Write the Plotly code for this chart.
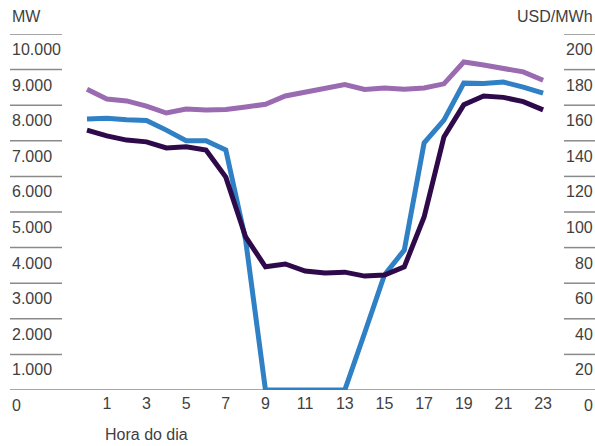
import plotly.graph_objects as go

hours = list(range(24))
demand_mw = [7300, 7140, 7020, 6970, 6800, 6830, 6740, 5980, 4300, 3460, 3540, 3340,
             3290, 3310, 3200, 3230, 3460, 4860, 7110, 8010, 8260, 8220, 8100, 7870]
solar_mw = [7610, 7630, 7590, 7570, 7300, 7000, 7000, 6740, 4210, 0, 0, 0,
            0, 0, 1600, 3230, 3930, 6940, 7580, 8620, 8610, 8650, 8510, 8340]
price_usd = [169, 163.5, 162.4, 159.5, 155.6, 157.9, 157.3, 157.6, 159, 160.5, 165.2, 167.4,
             169.7, 171.6, 168.8, 169.7, 169, 169.7, 172, 184.3, 182.6, 180.9, 178.7, 174]

left_ticks = [0, 1000, 2000, 3000, 4000, 5000, 6000, 7000, 8000, 9000, 10000]
left_labels = ["0", "1.000", "2.000", "3.000", "4.000", "5.000", "6.000", "7.000", "8.000", "9.000", "10.000"]
right_ticks = [0, 20, 40, 60, 80, 100, 120, 140, 160, 180, 200]
right_labels = ["0", "20", "40", "60", "80", "100", "120", "140", "160", "180", "200"]
x_ticks = [1, 3, 5, 7, 9, 11, 13, 15, 17, 19, 21, 23]

W, H = 595, 446
ML, MR, MT, MB = 10, 0, 34, 56
pw = W - ML - MR
FONT = "Liberation Sans, Arial, sans-serif"
TXT = "#3f3f3f"
GRID = "#8a8a8a"

fig = go.Figure()
fig.add_trace(go.Scatter(x=hours, y=price_usd, yaxis="y2", mode="lines",
                         line=dict(color="#9a6bb0", width=5), name="Preço"))
fig.add_trace(go.Scatter(x=hours, y=solar_mw, mode="lines",
                         line=dict(color="#2f80c4", width=5), name="Solar"))
fig.add_trace(go.Scatter(x=hours, y=demand_mw, mode="lines",
                         line=dict(color="#2e0a4a", width=5), name="Demanda"))

shapes = []
annotations = []
lx1 = (62 - ML) / pw
rx0 = (564 - ML) / pw
for v, t in zip(left_ticks, left_labels):
    if v > 0:
        shapes.append(dict(type="line", xref="paper", yref="y", x0=0, x1=lx1, y0=v, y1=v,
                           line=dict(color=GRID, width=1.5), layer="below"))
    annotations.append(dict(xref="paper", yref="y", x=0, y=v, text=t, showarrow=False,
                            xanchor="left", yanchor="top", yshift=-5,
                            font=dict(family=FONT, size=16, color=TXT)))
for v, t in zip(right_ticks, right_labels):
    if v > 0:
        shapes.append(dict(type="line", xref="paper", yref="y2", x0=rx0, x1=1, y0=v, y1=v,
                           line=dict(color=GRID, width=1.5), layer="below"))
    annotations.append(dict(xref="paper", yref="y2", x=1, y=v, text=t, showarrow=False,
                            xanchor="right", yanchor="top", yshift=-5,
                            font=dict(family=FONT, size=16, color=TXT)))
shapes.append(dict(type="line", xref="paper", yref="y", x0=0, x1=1, y0=0, y1=0,
                   line=dict(color=GRID, width=1.5), layer="below"))

annotations.append(dict(xref="paper", yref="paper", x=0, y=1, yshift=7, text="MW",
                        showarrow=False, xanchor="left", yanchor="bottom",
                        font=dict(family=FONT, size=16, color=TXT)))
annotations.append(dict(xref="paper", yref="paper", x=1, y=1, yshift=7, text="USD/MWh",
                        showarrow=False, xanchor="right", yanchor="bottom",
                        font=dict(family=FONT, size=16, color=TXT)))
annotations.append(dict(xref="paper", yref="paper", x=(103 - ML) / pw, y=0, yshift=-34,
                        text="Hora do dia", showarrow=False, xanchor="left", yanchor="top",
                        font=dict(family=FONT, size=16, color=TXT)))

x0 = (ML - 87) / 19.83
x1 = (W - 87) / 19.83

fig.update_layout(
    width=W, height=H,
    margin=dict(l=ML, r=MR, t=MT, b=MB),
    paper_bgcolor="white", plot_bgcolor="white",
    showlegend=False,
    xaxis=dict(range=[x0, x1], tickvals=x_ticks, ticktext=[str(v) for v in x_ticks],
               showgrid=False, zeroline=False, showline=False, ticks="",
               ticklabelstandoff=2,
               tickfont=dict(family=FONT, size=16, color=TXT)),
    yaxis=dict(range=[0, 10000], showgrid=False, zeroline=False, showticklabels=False),
    yaxis2=dict(range=[0, 200], overlaying="y", side="right", showgrid=False,
                zeroline=False, showticklabels=False),
    shapes=shapes, annotations=annotations,
)

fig.write_html("out.html", config={"displayModeBar": False},
               post_script="document.body.style.margin='0';document.body.style.overflow='hidden';")
